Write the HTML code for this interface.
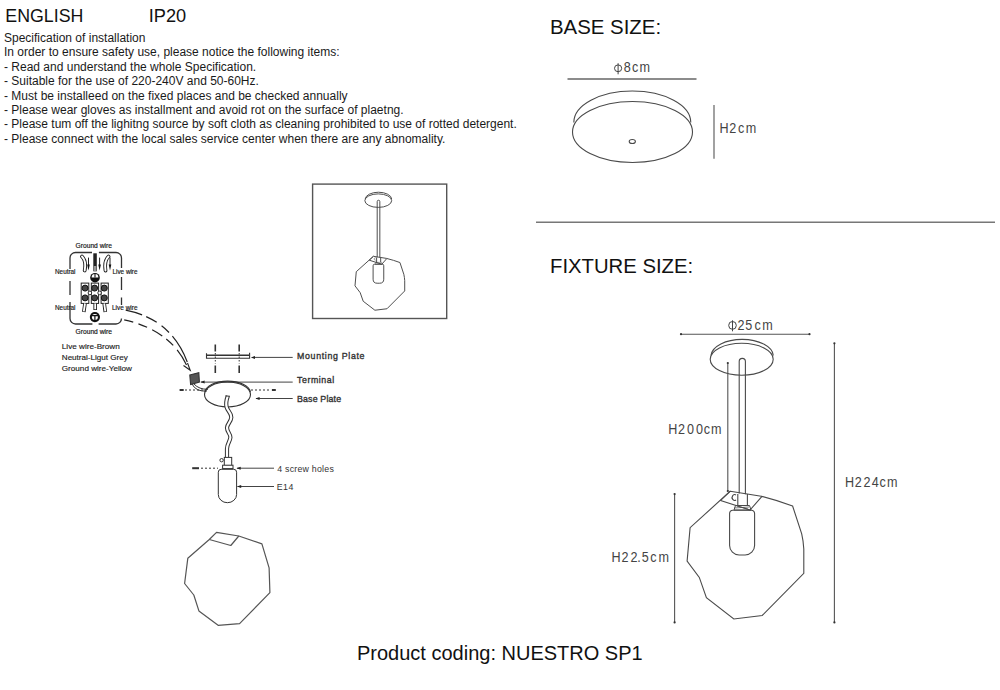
<!DOCTYPE html>
<html><head><meta charset="utf-8">
<style>
html,body{margin:0;padding:0;background:#fff;}
body{width:1000px;height:690px;position:relative;overflow:hidden;font-family:"Liberation Sans",sans-serif;color:#111;}
.t{position:absolute;white-space:nowrap;line-height:1;}
.b{font-size:12px;color:#1a1a1a;}
svg{position:absolute;left:0;top:0;}
.dim{font-family:"Liberation Sans",sans-serif;font-size:14px;fill:#444;}
.sm{font-family:"Liberation Sans",sans-serif;}
text{font-family:"Liberation Sans",sans-serif;}
.lbl{font-family:"Liberation Sans",sans-serif;font-size:8.8px;fill:#333;stroke:#333;stroke-width:0.35px;}
</style></head><body>
<div class="t" style="left:5.3px;top:7.6px;font-size:17.8px">ENGLISH</div>
<div class="t" style="left:148.8px;top:6.6px;font-size:18.2px">IP20</div>
<div class="t b" style="left:4px;top:32px">Specification of installation</div>
<div class="t b" style="left:4px;top:46.3px">In order to ensure safety use, please notice the following items:</div>
<div class="t b" style="left:4px;top:60.6px">- Read and understand the whole Specification.</div>
<div class="t b" style="left:4px;top:75px">- Suitable for the use of 220-240V and 50-60Hz.</div>
<div class="t b" style="left:4px;top:90.1px">- Must be installeed on the fixed places and be checked annually</div>
<div class="t b" style="left:4px;top:103.6px">- Please wear gloves as installment and avoid rot on the surface of plaetng.</div>
<div class="t b" style="left:4px;top:118px">- Please tum off the lighitng source by soft cloth as cleaning prohibited to use of rotted detergent.</div>
<div class="t b" style="left:4px;top:133.1px">- Please connect with the local sales service center when there are any abnomality.</div>
<div class="t" style="left:550px;top:16.6px;font-size:20.4px">BASE SIZE:</div>
<div class="t" style="left:550px;top:255.6px;font-size:20.3px">FIXTURE SIZE:</div>
<div class="t" style="left:357px;top:643px;font-size:20px">Product coding: NUESTRO SP1</div>
<svg width="1000" height="690" viewBox="0 0 1000 690">
<line x1="536" y1="222.3" x2="995" y2="222.3" stroke="#777" stroke-width="1.6"/>
<!-- BASE SIZE -->
<g fill="none" stroke="#4a4a4a" stroke-width="1.1">
<line x1="567.5" y1="79" x2="696.5" y2="79" stroke="#666" stroke-width="1.3"/>
<path d="M573.8 122.5 A58.5 31.5 0 0 1 690.8 122.5"/>
<ellipse cx="632.5" cy="132" rx="60" ry="30.5"/>
<ellipse cx="632.3" cy="141.5" rx="3.1" ry="2"/>
<line x1="714" y1="105" x2="714" y2="158.7" stroke="#555"/>
</g>
<text class="dim" transform="scale(0.9 1)" x="693.12 702.36 710.58" y="72.2">8cm</text>
<g fill="none" stroke="#444" stroke-width="1"><ellipse cx="618.1" cy="68.3" rx="3.6" ry="3.4"/><path d="M618.1 63.2 V74.3"/></g>
<text class="dim" transform="scale(0.9 1)" x="799.35 810.24 820.13 828.69" y="133.5">H2cm</text>
<!-- FIXTURE SIZE -->
<g fill="none" stroke="#4a4a4a" stroke-width="1.1">
<line x1="681" y1="334.2" x2="809.5" y2="334.2" stroke="#555"/>
<line x1="727.8" y1="363" x2="727.8" y2="491" stroke="#555"/>
<line x1="834.4" y1="343.3" x2="834.4" y2="622.4" stroke="#555"/>
<line x1="674.6" y1="494.1" x2="674.6" y2="622.4" stroke="#555"/>
<g id="pend">
<path d="M711 355.3 A31.2 17 0 0 1 773.3 355.5"/>
<ellipse cx="741.7" cy="359.3" rx="31.5" ry="16"/>
<path d="M739.2 493.5 V361.5 A3.1 3.1 0 0 1 745.4 361.5 V494.3"/>
<path d="M730.3 491.2 L761.2 496.2 Q778 500.5 792.6 506 L801.7 533.8 Q803.4 541 803.8 549 L803.8 573.3 L762.2 615.5 L733.8 619 L706.4 597.7 L699.3 577.4 L687.1 561.2 L690.1 527.7 Z"/>
<path d="M730.3 491.2 L720.6 500.4 L750 510 L762.2 496.1"/>
<path d="M737.8 494 V505 M747.4 494 V505"/>
<path d="M735.5 505.5 H749.5 L751 510 H734 Z" stroke-width="1"/>
<path d="M734 508 L749 507 M737 506 L748 509" stroke-width="0.7"/>
<path d="M732.8 510.2 H751.2 A3.2 3.2 0 0 1 754.6 513.5 V545.5 A9.5 9.5 0 0 1 745.1 555 H739.1 A9.5 9.5 0 0 1 729.6 545.5 V513.5 A3.2 3.2 0 0 1 732.8 510.2 Z"/>
<path d="M736 495 A2.5 3 0 1 0 736 500" stroke-width="1.2"/>
</g>
</g>
<g fill="#333">
<circle cx="681" cy="334.2" r="1.1"/><circle cx="809.5" cy="334.2" r="1.1"/>
<circle cx="727.8" cy="363" r="1.1"/><circle cx="727.8" cy="491" r="1.1"/>
<circle cx="834.4" cy="343.3" r="1.1"/><circle cx="834.4" cy="622.4" r="1.1"/>
<circle cx="674.6" cy="494.1" r="1.1"/><circle cx="674.6" cy="622.4" r="1.1"/>
</g>
<text class="dim" transform="scale(0.9 1)" x="819.58 828.16 838.36 847.02" y="329.6">25cm</text>
<g fill="none" stroke="#444" stroke-width="1"><ellipse cx="732.5" cy="325.4" rx="3.8" ry="3.9"/><path d="M732.5 320.3 V331.3"/></g>
<text class="dim" transform="scale(0.9 1)" x="742.57 753.47 763.29 773.29 781.91 789.91" y="434.5">H200cm</text>
<text class="dim" transform="scale(0.9 1)" x="939.02 949.8 959.47 968.51 977.25 985.58" y="487">H224cm</text>
<text class="dim" transform="scale(0.9 1)" x="679.35 690.47 700.69 708.0 712.94 722.58 731.8" y="562.4">H22.5cm</text>
<!-- THUMBNAIL -->
<rect x="312.6" y="184.1" width="134.1" height="134.4" fill="none" stroke="#555" stroke-width="1.4"/>
<use href="#pend" transform="translate(373.4 256.3) scale(0.426 0.422) translate(-730.3 -491.2)" fill="none" stroke="#4a4a4a" stroke-width="2.3"/>
<!-- LOWER LEFT GLASS -->
<g fill="none" stroke="#555" stroke-width="1.2" stroke-linejoin="round">
<path d="M216.5 532.4 L238.8 536 L261.9 543.9 L269.1 567.8 L269.9 592.6 L239.6 623.7 L218.1 625.3 L198.9 610.9 L193.8 595 L184.6 583.5 L187.8 558.3 L209.3 539.5 Z"/>
<path d="M209.3 539.5 L230.8 545.5 L238.8 536"/>
</g>
<!-- WIRING BOX -->
<g fill="none" stroke="#333" stroke-width="1.3">
<path d="M92 252.5 H75.5 A5.5 5.5 0 0 0 70 258 V269 M70 281 V295 M70 302 V318.5 A5.5 5.5 0 0 0 75.5 324 H92.4 M98.6 324 H116 A5.5 5.5 0 0 0 121.5 318.5 M121.5 305 V297.5 M121.5 290 V277 M121.5 268 V258 A5.5 5.5 0 0 0 116 252.5 H98.9"/>
</g>
<g>
<rect x="93.3" y="253.3" width="3.5" height="18" fill="#222"/>
<rect x="93.8" y="266" width="2.5" height="5" fill="#999"/>
<path d="M82 256.5 Q86.5 261 84.7 270.5 M108.5 256.5 Q104 261 105.5 270.5" stroke="#222" stroke-width="3.8" fill="none" stroke-linecap="round"/>
<path d="M82 256.5 Q86.5 261 84.7 270.5 M108.5 256.5 Q104 261 105.5 270.5" stroke="#fff" stroke-width="1.9" fill="none" stroke-linecap="round"/>
<path d="M88.5 257.6 V266 M99.6 257.6 V266 M110 257.6 V266" stroke="#222" stroke-width="1"/>
<path d="M87.2 264.5 L89.8 264.5 L88.5 270.5 Z M98.3 264.5 L100.9 264.5 L99.6 270.5 Z M108.7 264.5 L111.3 264.5 L110 270.5 Z" fill="#111"/>
<circle cx="95" cy="277.7" r="4.8" fill="#111"/>
<path d="M91.6 277.4 A3.4 3.4 0 0 1 98.4 277.4 Z" fill="#fff"/>
<path d="M95 274 V277.6" stroke="#111" stroke-width="1.1"/>
<g fill="#fff" stroke="#222" stroke-width="1">
<rect x="81.2" y="283.1" width="7.6" height="20.3"/>
<rect x="91.3" y="283.1" width="7.3" height="20.3"/>
<rect x="101.1" y="283.1" width="7.2" height="20.3"/>
</g>
<g fill="#444" stroke="#111" stroke-width="1">
<circle cx="85.1" cy="288.1" r="3.0"/><circle cx="94.6" cy="288.1" r="3.0"/><circle cx="104.3" cy="288.1" r="3.0"/>
<circle cx="85.1" cy="297.9" r="3.0"/><circle cx="94.6" cy="297.9" r="3.0"/><circle cx="104.3" cy="297.9" r="3.0"/>
</g>
<circle cx="89.9" cy="292.9" r="1.8" fill="#fff" stroke="#222" stroke-width="0.9"/>
<circle cx="99.6" cy="292.9" r="1.8" fill="#fff" stroke="#222" stroke-width="0.9"/>
<path d="M85 303.5 L83.8 312 M95.2 303.5 V310 M104.2 303.5 L105.3 312" stroke="#222" stroke-width="3.6" fill="none"/>
<path d="M85 303.5 L83.8 311.3 M95.2 303.5 V309.3 M104.2 303.5 L105.3 311.3" stroke="#fff" stroke-width="1.8" fill="none"/>
<circle cx="94.9" cy="317.1" r="5.1" fill="#111"/>
<circle cx="94.9" cy="317.1" r="3.0" fill="#fff"/>
<path d="M91.5 315.6 H98.3 M94.9 315.6 V320.8" stroke="#111" stroke-width="1.2"/>
</g>
<g class="sm" fill="#1a1a1a" stroke="#1a1a1a" stroke-width="0.18" font-size="6.6px">
<text x="75.5" y="248" textLength="36.5" lengthAdjust="spacingAndGlyphs">Ground wire</text>
<text x="55" y="274" textLength="20.5" lengthAdjust="spacingAndGlyphs">Neutral</text>
<text x="112.5" y="274" textLength="25" lengthAdjust="spacingAndGlyphs">Live wire</text>
<text x="55" y="309.5" textLength="20.5" lengthAdjust="spacingAndGlyphs">Neutral</text>
<text x="112" y="309.5" textLength="25.5" lengthAdjust="spacingAndGlyphs">Live wire</text>
<text x="75.5" y="334" textLength="36.5" lengthAdjust="spacingAndGlyphs">Ground wire</text>
</g>
<g class="sm" fill="#222" stroke="#222" stroke-width="0.15" font-size="8px">
<text x="61.8" y="348.7" textLength="58" lengthAdjust="spacingAndGlyphs">Live wire-Brown</text>
<text x="61.8" y="359.9" textLength="66" lengthAdjust="spacingAndGlyphs">Neutral-Ligut Grey</text>
<text x="61.8" y="370.7" textLength="70.2" lengthAdjust="spacingAndGlyphs">Ground wire-Yellow</text>
</g>
<!-- DASHED ARCS -->
<g fill="none" stroke="#222" stroke-width="1.2">
<path d="M125.7 310.1 Q175 320 189.8 369.5" stroke-dasharray="17 4.5 12 6 10 5 30"/>
<path d="M124.2 319.8 Q170 330 186.5 365" stroke-dasharray="9 5.5 9.5 5.5 12 5 9.5 6 30"/>
<path d="M183.5 365.5 L190.2 370.2 L187.5 363" stroke-width="1.1"/>
</g>
<!-- MOUNTING PLATE -->
<g fill="none" stroke="#333" stroke-width="1.1">
<path d="M206.5 353.2 V358.3 H249.6 V352.8" />
<path d="M207 355.3 H249" stroke-width="1.6"/>
<path d="M215.3 344.6 V351.5 M239.2 344.6 V351.5 M215.3 365.5 V373 M239.2 365.5 V373" stroke-width="1.6"/>
<path d="M215.3 353 V364 M239.2 353 V364" stroke-dasharray="1.5 2" stroke-width="1"/>
<path d="M253 357.4 H292.7 M200.8 382.1 H292.7 M256 398.5 H292.7 M237 468.2 H274 M237.5 486.5 H274" stroke="#444" stroke-width="1"/>
</g>
<g fill="#222">
<path d="M250.8 357.4 L255 355.9 L255 358.9 Z M200.4 382.1 L204.6 380.6 L204.6 383.6 Z M255.4 398.5 L259.6 397 L259.6 400 Z M236.5 468.2 L240.7 466.7 L240.7 469.7 Z M237 486.5 L241.2 485 L241.2 488 Z"/>
</g>
<!-- TERMINAL + BASE PLATE -->
<g fill="none" stroke="#333" stroke-width="1.1">
<path d="M189.8 375 L198.8 372.6 L199.4 382 L190.6 384.6 Z" fill="#555"/>
<path d="M192 384 Q196 392 207 391 M194 384 Q199 389.5 208 389.3" stroke-width="1"/>
<path d="M205 392 A22.7 11.6 0 0 1 250.3 392" />
<ellipse cx="227.5" cy="394.5" rx="23" ry="12.5"/>
<path d="M179.6 390 H183.7 M271.9 390 H275.8" stroke-width="2"/>
<path d="M185 390 H204 M251 390 H271" stroke-dasharray="2 2" stroke-width="1"/>
</g>
<!-- CORD + SOCKET + BULB -->
<g fill="none">
<path d="M227.8 396 C226 401 225.8 404 226.6 407 C227.5 411 231.6 413 231.3 417.4 C231 422 227 424 227 427.8 C227 432 230.6 434 230.4 437.4 C230.2 441 227 444 227 448.7 V457.4" stroke="#333" stroke-width="4.2"/>
<path d="M227.8 396 C226 401 225.8 404 226.6 407 C227.5 411 231.6 413 231.3 417.4 C231 422 227 424 227 427.8 C227 432 230.6 434 230.4 437.4 C230.2 441 227 444 227 448.7 V457.4" stroke="#fff" stroke-width="2.2"/>
<path d="M225.5 395.9 L230 396.3" stroke="#333" stroke-width="1"/>
<g stroke="#333" stroke-width="1">
<rect x="224.3" y="457.4" width="7.4" height="8.2" fill="#fff"/>
<circle cx="221.6" cy="460.2" r="1.7" fill="#fff"/>
<rect x="222.6" y="465.2" width="10.4" height="3.4" fill="#fff"/>
<path d="M221.1 469.3 H233.7 A2.9 2.9 0 0 1 236.6 472.2 V494.5 A9.15 8.2 0 0 1 218.3 494.5 V472.2 A2.9 2.9 0 0 1 221.1 469.3 Z" fill="#fff"/>
<path d="M192.2 468.2 H199" stroke-width="2"/>
<path d="M201 468.2 H218" stroke-dasharray="2 2"/>
</g>
</g>
<g class="lbl">
<text x="297" y="358.5" textLength="67.5">Mounting Plate</text>
<text x="297" y="382.9" textLength="37.2">Terminal</text>
<text x="297" y="402.2" textLength="44.1">Base Plate</text>
</g>
<g fill="#333" font-size="8.8px">
<text x="277.2" y="471.7" textLength="56.6">4 screw holes</text>
<text x="276.8" y="489.5" textLength="16.5">E14</text>
</g>
</svg>
</body></html>
